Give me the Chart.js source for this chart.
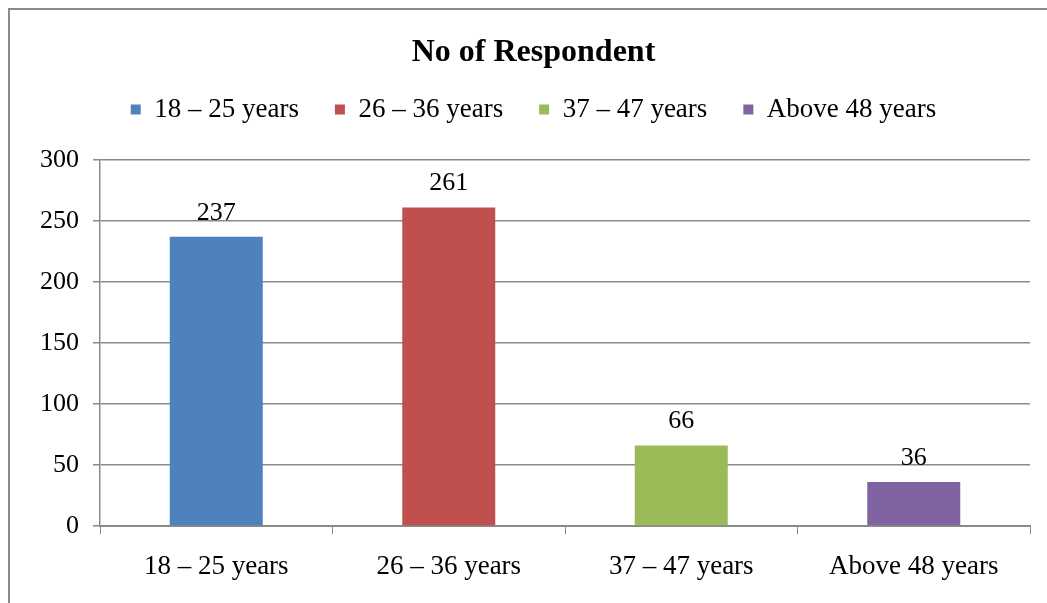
<!DOCTYPE html>
<html>
<head>
<meta charset="utf-8">
<script src="https://cdn.jsdelivr.net/npm/chart.js@4"></script>
<style>
  html, body { margin: 0; padding: 0; background: #fff; overflow: hidden; }
  #frame { position: absolute; left: 8px; top: 8px; width: 1100px; height: 700px;
           border-left: 2px solid #8a8a8a; border-top: 2px solid #8a8a8a; }
  #wrap { position: absolute; left: 0; top: 0; width: 1047px; height: 603px; }
</style>
</head>
<body>
<div id="frame"></div>
<div id="wrap"><canvas id="chart"></canvas></div>
<script>
// Data
const categories = ['18 – 25 years', '26 – 36 years', '37 – 47 years', 'Above 48 years'];
const respondents = [237, 261, 66, 36];
const barColors = ['#4F81BD', '#C0504D', '#9BBB59', '#8064A2'];
const yTicks = [0, 50, 100, 150, 200, 250, 300];

const serif = '"Liberation Serif", "Times New Roman", serif';

// value labels above bars
const valueLabels = {
    id: 'valueLabels',
    afterDatasetsDraw(chart) {
        const ctx = chart.ctx;
        const meta = chart.getDatasetMeta(0);
        ctx.save();
        ctx.font = '26px ' + serif;
        ctx.fillStyle = '#000';
        ctx.textAlign = 'center';
        ctx.textBaseline = 'bottom';
        meta.data.forEach((bar, i) => {
            ctx.fillText(String(respondents[i]), bar.x, bar.y - 11);
        });
        ctx.restore();
    }
};

// extra room under the legend, and pull the legend row up a bit
const legendGap = {
    id: 'legendGap',
    beforeInit(chart) {
        const fit = chart.legend.fit;
        chart.legend.fit = function () {
            fit.bind(chart.legend)();
            this.height += 16;
        };
    },
    afterLayout(chart) {
        chart.legend.top -= 11;
        chart.legend.bottom -= 11;
    }
};

new Chart(document.getElementById('chart'), {
    type: 'bar',
    data: {
        labels: categories,
        datasets: [{
            label: 'No of Respondent',
            data: respondents,
            backgroundColor: barColors,
            borderWidth: 0,
            categoryPercentage: 1,
            barPercentage: 0.4
        }]
    },
    options: {
        responsive: true,
        maintainAspectRatio: false,
        animation: false,
        layout: { padding: { top: 37, right: 17, left: 37, bottom: 0 } },
        plugins: {
            title: {
                display: true,
                text: 'No of Respondent',
                color: '#000',
                font: { family: serif, size: 32, weight: 'bold', lineHeight: 1 },
                padding: { top: 0, bottom: 2 }
            },
            legend: {
                display: true,
                position: 'top',
                labels: {
                    color: '#000',
                    font: { family: serif, size: 27 },
                    boxWidth: 10,
                    boxHeight: 10,
                    padding: 36,
                    generateLabels: () => categories.map((c, i) => ({
                        text: c,
                        fillStyle: barColors[i],
                        strokeStyle: barColors[i],
                        lineWidth: 0,
                        hidden: false,
                        index: i
                    }))
                }
            },
            tooltip: { enabled: false }
        },
        scales: {
            x: {
                grid: {
                    drawOnChartArea: false,
                    drawTicks: true,
                    tickLength: 8,
                    color: '#8a8a8a'
                },
                border: { color: '#8a8a8a', width: 2 },
                ticks: {
                    color: '#000',
                    font: { family: serif, size: 27 },
                    padding: 17
                },
                afterFit: s => { s.height = 77; }
            },
            y: {
                min: 0,
                max: 300,
                afterBuildTicks: s => { s.ticks = yTicks.map(v => ({ value: v })); },
                grid: {
                    color: '#8a8a8a',
                    lineWidth: 1.5,
                    tickLength: 7
                },
                border: { color: '#8a8a8a', width: 1.5 },
                ticks: {
                    color: '#000',
                    font: { family: serif, size: 26 },
                    padding: 14
                },
                afterFit: s => { s.width = 63; }
            }
        }
    },
    plugins: [valueLabels, legendGap]
});
</script>
</body>
</html>
